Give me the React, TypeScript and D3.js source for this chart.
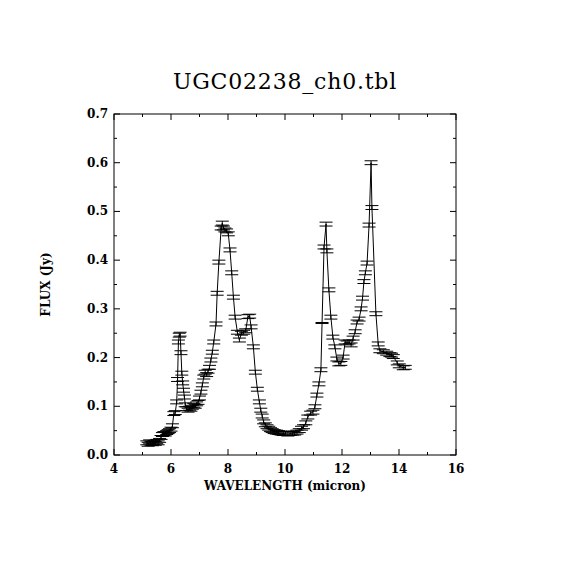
import React from "react";
import * as d3 from "d3";

const wavelength = [
  5.15, 5.2, 5.25, 5.3, 5.35, 5.4, 5.45, 5.5, 5.55, 5.6, 5.65, 5.7, 5.75, 5.8, 5.85, 5.9, 5.95, 6.0, 6.05, 6.1,
  6.15, 6.2, 6.23, 6.26, 6.29, 6.32, 6.35, 6.38, 6.41, 6.44, 6.47, 6.5, 6.55, 6.6, 6.65, 6.7, 6.75, 6.8, 6.85, 6.9,
  6.95, 7.0, 7.05, 7.1, 7.15, 7.2, 7.25, 7.3, 7.35, 7.4, 7.45, 7.5, 7.58, 7.62, 7.68, 7.76, 7.8, 7.84, 7.89, 7.95,
  8.01, 8.07, 8.13, 8.19, 8.25, 8.33, 8.4, 8.47, 8.55, 8.62, 8.7, 8.76, 8.81, 8.89, 8.96, 9.03, 9.1, 9.15, 9.2, 9.25,
  9.31, 9.37, 9.43, 9.49, 9.55, 9.62, 9.7, 9.78, 9.86, 9.94, 10.02, 10.1, 10.18, 10.26, 10.34, 10.42, 10.5, 10.58, 10.65, 10.73,
  10.8, 10.9, 10.98, 11.05, 11.12, 11.19, 11.26, 11.3, 11.37, 11.44, 11.47, 11.54, 11.61, 11.68, 11.75, 11.82, 11.89, 11.96, 12.04, 12.11,
  12.18, 12.25, 12.32, 12.39, 12.46, 12.53, 12.6, 12.67, 12.72, 12.77, 12.82, 12.88, 12.95, 13.02, 13.05, 13.19, 13.27, 13.33, 13.45, 13.57,
  13.68, 13.74, 13.8, 13.94, 14.01, 14.15, 14.22,
];

const flux = [
  0.025, 0.022, 0.027, 0.024, 0.023, 0.026, 0.024, 0.028, 0.025, 0.03, 0.036, 0.042, 0.044, 0.043, 0.046, 0.048, 0.05, 0.053, 0.06, 0.085,
  0.087, 0.109, 0.155, 0.232, 0.246, 0.248, 0.21, 0.168, 0.148, 0.133, 0.119, 0.103, 0.095, 0.092, 0.096, 0.094, 0.098, 0.102, 0.1, 0.105,
  0.108, 0.117, 0.129, 0.144, 0.16, 0.17, 0.165, 0.172, 0.18, 0.195, 0.211, 0.232, 0.269, 0.332, 0.396, 0.466, 0.476, 0.466, 0.462, 0.46,
  0.454, 0.421, 0.374, 0.324, 0.283, 0.252, 0.236, 0.25, 0.252, 0.255, 0.284, 0.285, 0.263, 0.222, 0.17, 0.135, 0.109, 0.092, 0.08, 0.068,
  0.062, 0.058, 0.055, 0.052, 0.05, 0.048, 0.047, 0.046, 0.045, 0.044, 0.044, 0.043, 0.044, 0.045, 0.045, 0.047, 0.05, 0.055, 0.058, 0.066,
  0.078, 0.086, 0.088, 0.099, 0.123, 0.146, 0.175, 0.271, 0.427, 0.474, 0.419, 0.339, 0.283, 0.242, 0.222, 0.197, 0.187, 0.188, 0.201, 0.232,
  0.23, 0.232, 0.226, 0.24, 0.253, 0.273, 0.279, 0.3, 0.322, 0.356, 0.374, 0.394, 0.472, 0.6, 0.508, 0.29, 0.228, 0.214, 0.212, 0.209,
  0.206, 0.205, 0.202, 0.189, 0.183, 0.179, 0.18,
];

const fluxErr = wavelength.map((w, i) => (i === 107 ? 0.001 : 0.004));

const xTicks = [4, 6, 8, 10, 12, 14, 16];
const yTicks = [0, 0.1, 0.2, 0.3, 0.4, 0.5, 0.6, 0.7];
const title = "UGC02238_ch0.tbl";
const xLabel = "WAVELENGTH (micron)";
const yLabel = "FLUX (Jy)";

const W = 570;
const H = 570;
const L = 114;
const R = 456;
const T = 114;
const B = 455;

export default function App() {
  const x = d3.scaleLinear().domain([4, 16]).range([L, R]);
  const y = d3.scaleLinear().domain([0, 0.7]).range([B, T]);
  const pts = wavelength.map((w, i) => ({ w, f: flux[i], e: fluxErr[i] }));
  const line = d3
    .line<{ w: number; f: number }>()
    .x((d) => x(d.w))
    .y((d) => y(d.f));
  const xMinor = d3.range(4, 16.01, 1);
  const yMinor = d3.range(0, 0.701, 0.05);
  const font = "'DejaVu Serif', serif";
  const cap = 6.5;
  return (
    <svg
      width={W}
      height={H}
      style={{ position: "absolute", left: 0, top: 0, background: "#fff" }}
    >
      <rect x={0} y={0} width={W} height={H} fill="#fff" />
      <text
        x={285}
        y={89}
        textAnchor="middle"
        fontFamily={font}
        fontSize={22}
        letterSpacing={0.8}
        fill="#000"
      >
        {title}
      </text>
      <g stroke="#000" strokeWidth={1} fill="none">
        <rect x={L} y={T} width={R - L} height={B - T} />
        {xMinor.map((v) => {
          const major = Math.abs(v % 2) < 1e-6;
          const len = major ? 6 : 3;
          return (
            <g key={"xt" + v}>
              <line x1={x(v)} x2={x(v)} y1={B} y2={B - len} />
              <line x1={x(v)} x2={x(v)} y1={T} y2={T + len} />
            </g>
          );
        })}
        {yMinor.map((v, i) => {
          const major = i % 2 === 0;
          const len = major ? 6 : 3;
          return (
            <g key={"yt" + i}>
              <line x1={L} x2={L + len} y1={y(v)} y2={y(v)} />
              <line x1={R} x2={R - len} y1={y(v)} y2={y(v)} />
            </g>
          );
        })}
      </g>
      <g fontFamily={font} fontSize={12} fontWeight="bold" fill="#000">
        {xTicks.map((v) => (
          <text key={"xl" + v} x={x(v)} y={B + 18} textAnchor="middle">
            {v}
          </text>
        ))}
        {yTicks.map((v) => (
          <text key={"yl" + v} x={L - 6} y={y(v) + 4} textAnchor="end">
            {v.toFixed(1)}
          </text>
        ))}
        <text x={(L + R) / 2} y={B + 35} textAnchor="middle">
          {xLabel}
        </text>
        <text
          x={0}
          y={0}
          textAnchor="middle"
          transform={`translate(50, ${(T + B) / 2}) rotate(-90)`}
        >
          {yLabel}
        </text>
      </g>
      <path d={line(pts) || ""} stroke="#000" strokeWidth={1} fill="none" />
      <g stroke="#000" strokeWidth={1}>
        {pts.map((p, i) => (
          <g key={"p" + i}>
            <line x1={x(p.w)} x2={x(p.w)} y1={y(p.f - p.e)} y2={y(p.f + p.e)} />
            <line x1={x(p.w) - cap} x2={x(p.w) + cap} y1={y(p.f - p.e)} y2={y(p.f - p.e)} />
            <line x1={x(p.w) - cap} x2={x(p.w) + cap} y1={y(p.f + p.e)} y2={y(p.f + p.e)} />
          </g>
        ))}
      </g>
    </svg>
  );
}
